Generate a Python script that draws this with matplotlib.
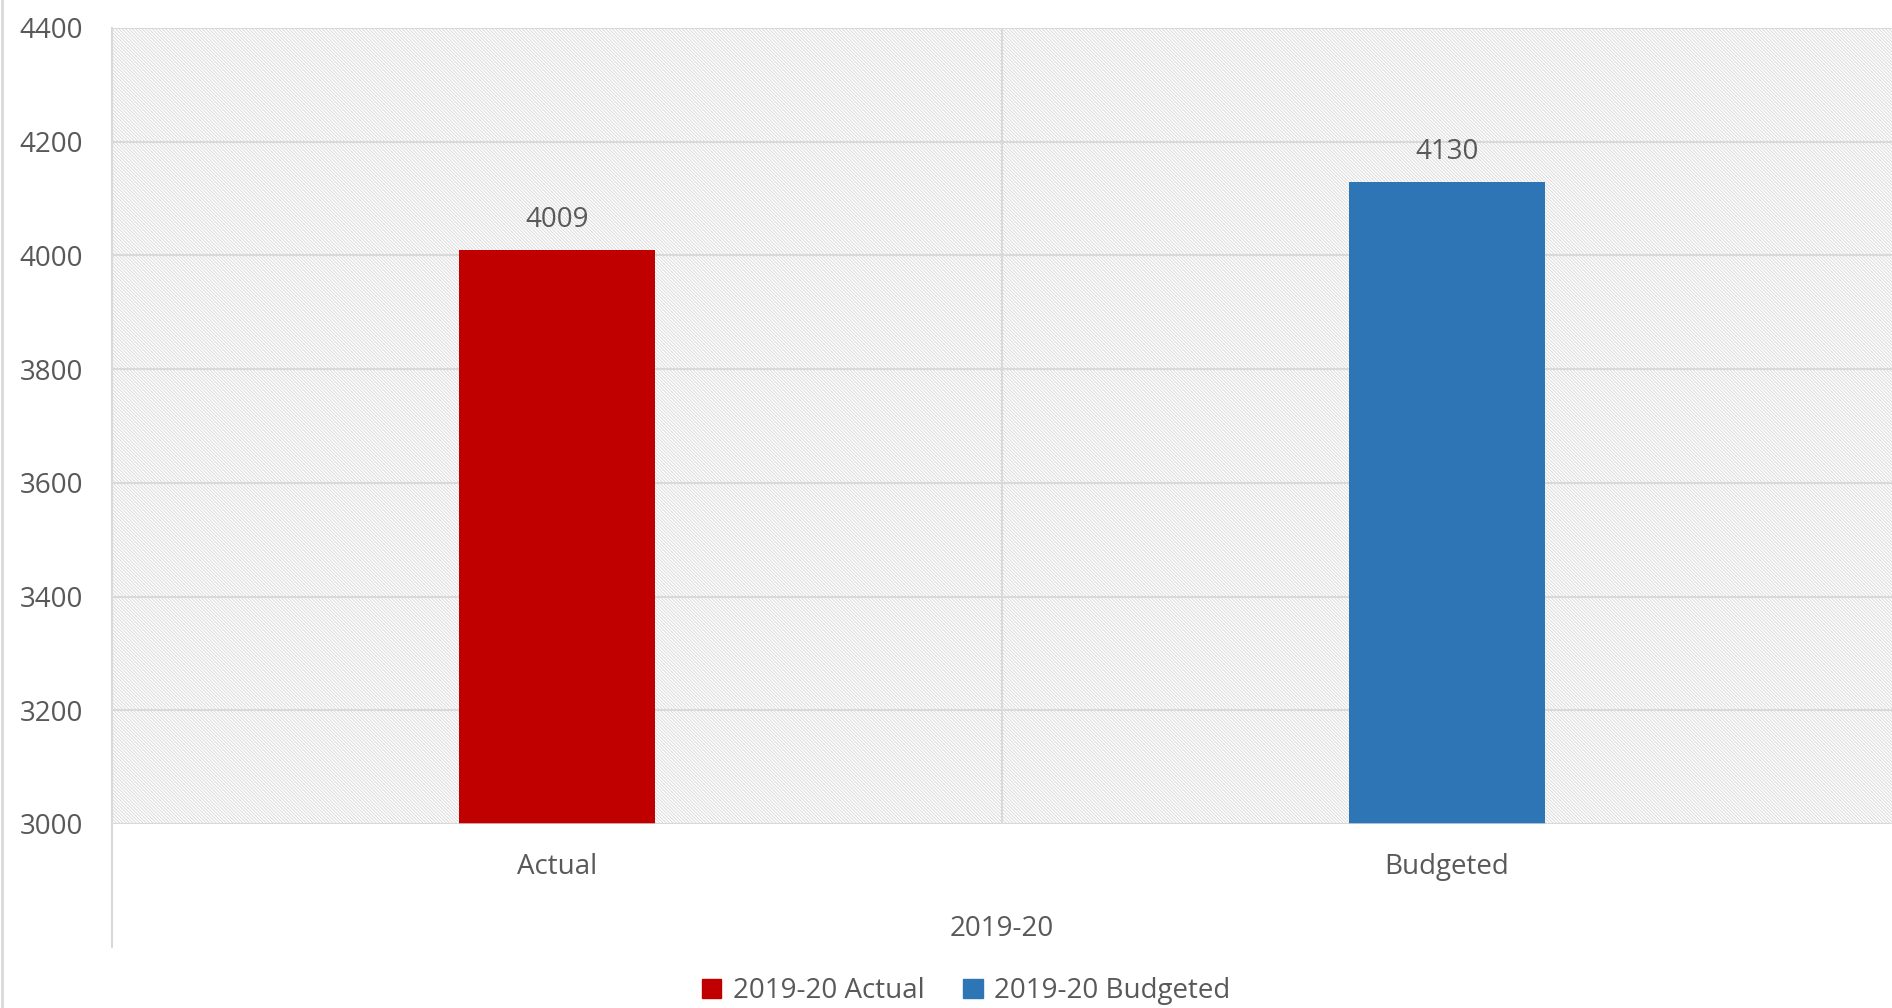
import matplotlib
matplotlib.use("Agg")
import matplotlib.pyplot as plt
import matplotlib.patches as mpatches
import matplotlib.transforms as mtransforms
from matplotlib.lines import Line2D

categories = ["Actual", "Budgeted"]
group_label = "2019-20"
values = [4009, 4130]
series_names = ["2019-20 Actual", "2019-20 Budgeted"]
colors = ["#C00000", "#2E75B6"]
yticks = [3000, 3200, 3400, 3600, 3800, 4000, 4200, 4400]

plt.rcParams['font.family'] = ['Open Sans', 'DejaVu Sans']
plt.rcParams['hatch.linewidth'] = 0.6
txt = "#595959"
grid = "#d9d9d9"
fs = 20

W, H = 1892, 1008
fig = plt.figure(figsize=(W / 100, H / 100), dpi=100)
ax = fig.add_axes([112 / W, (H - 824) / H, 1780 / W, 796 / H])

#hatched plot area background
bg = mpatches.Rectangle((0, 0), 1, 1, transform=ax.transAxes, facecolor="white",
                        edgecolor="#d6d6d6", hatch="\\" * 10, linewidth=0, zorder=0)
ax.add_patch(bg)

x = list(range(len(categories)))
for i in x:
    ax.bar(i, values[i] - 3000, bottom=3000, width=0.22, color=colors[i], zorder=3)
    ax.text(i, values[i] + 28, str(values[i]), ha="center", va="bottom",
            fontsize=fs, color=txt, zorder=4)

ax.set_xlim(-0.5, 1.5)
ax.set_ylim(3000, 4400)
ax.set_yticks(yticks)
ax.set_yticklabels([str(t) for t in yticks], fontsize=fs, color=txt)
ax.set_xticks(x)
ax.set_xticklabels(categories, fontsize=fs, color=txt)
ax.tick_params(axis="y", length=0, pad=21)
ax.tick_params(axis="x", length=0, pad=21)
for s in ax.spines.values():
    s.set_visible(False)
ax.yaxis.grid(True, color=grid, linewidth=1.5, zorder=1)
ax.set_axisbelow(True)
ax.axvline(0.5, color=grid, linewidth=1.5, zorder=1)
ax.axhline(3000, color=grid, linewidth=1.8, zorder=4)

# outer category separator, extends below the labels
trans = mtransforms.blended_transform_factory(ax.transData, ax.transAxes)
ax.add_line(Line2D([-0.5, -0.5], [1, -0.155], transform=trans, color=grid,
                   linewidth=1.5, clip_on=False))
ax.text(0.5, -0.132, group_label, transform=trans, ha="center", va="center",
        fontsize=fs, color=txt)

# figure border at left
fig.add_artist(Line2D([2 / W, 2 / W], [0, 1], transform=fig.transFigure,
                      color=grid, linewidth=2))

handles = [mpatches.Patch(color=c, label=n) for c, n in zip(colors, series_names)]
fig.legend(handles=handles, loc="center", bbox_to_anchor=(966 / W, 1 - 991 / H),
           ncol=2, frameon=False, fontsize=fs, handlelength=0.7, handleheight=0.7,
           handletextpad=0.4, columnspacing=1.4, labelcolor=txt)

fig.savefig("out.png", dpi=100)
